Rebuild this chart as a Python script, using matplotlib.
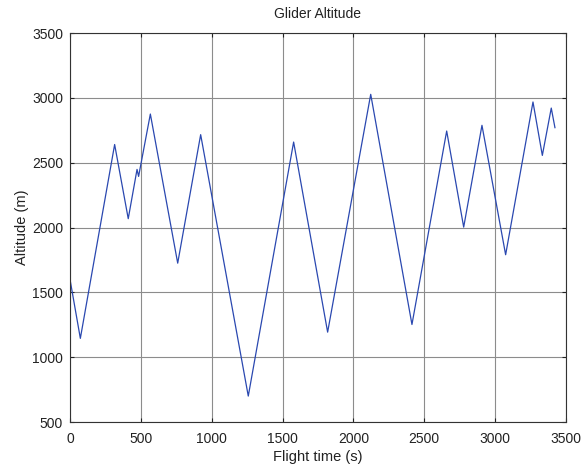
import matplotlib
matplotlib.use("Agg")
import matplotlib.pyplot as plt

# Vertex data
time_s = [0, 73, 315, 411, 473, 484, 567, 760, 922, 1258, 1578, 1818, 2122,
          2413, 2658, 2778, 2907, 3074, 3267, 3333, 3396, 3422]
altitude_m = [1600, 1145, 2640, 2068, 2448, 2394, 2875, 1725, 2716, 700, 2659,
              1193, 3027, 1252, 2744, 2003, 2788, 1790, 2968, 2556, 2921, 2770]

xticks = [0, 500, 1000, 1500, 2000, 2500, 3000, 3500]
yticks = [500, 1000, 1500, 2000, 2500, 3000, 3500]

plt.rcParams['font.family'] = ['Liberation Sans', 'DejaVu Sans']

fig = plt.figure(figsize=(5.81, 4.66), dpi=100)
ax = fig.add_axes([70/581, 44/466, 496/581, 389/466])

ax.plot(time_s, altitude_m, color='#2a48b0', linewidth=0.9)

ax.set_xlim(0, 3500)
ax.set_ylim(500, 3500)
ax.set_xticks(xticks)
ax.set_yticks(yticks)
ax.tick_params(direction='in', length=3, width=0.8, top=True, right=True,
               labelsize=10, colors='#222222')
ax.tick_params(axis='x', pad=7)
ax.tick_params(axis='y', pad=5)
ax.grid(True, color='#8c8c8c', linewidth=0.8)
for s in ax.spines.values():
    s.set_color('#333333')
    s.set_linewidth(0.8)

ax.set_title('Glider Altitude', fontsize=10, color='#222222', pad=11)
ax.set_xlabel('Flight time (s)', fontsize=10.5, color='#222222', labelpad=3)
ax.set_ylabel('Altitude (m)', fontsize=10.5, color='#222222', labelpad=2)

fig.savefig('out.png', dpi=100)
